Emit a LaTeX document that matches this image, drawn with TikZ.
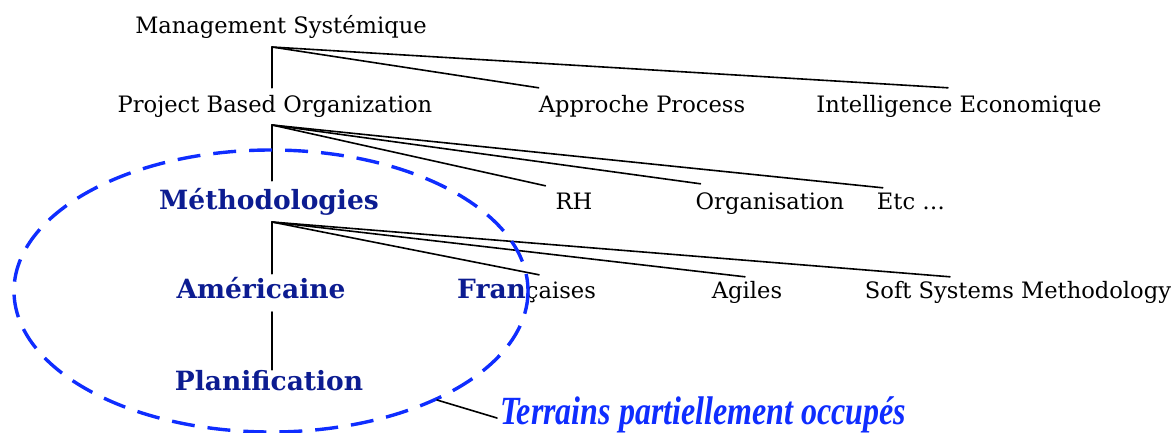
\documentclass[tikz,border=0pt]{standalone}
\usepackage{fontspec}
\setmainfont{DejaVu Serif}
\newfontfamily\condfont[FakeStretch=0.8]{Liberation Serif}
\definecolor{navy}{RGB}{12,28,145}
\definecolor{zoneblue}{RGB}{15,45,255}
\begin{document}
\begin{tikzpicture}[x=1pt, y=-1pt, line cap=round, line join=round,
	lbl/.style={anchor=base, inner sep=0pt, text height=24pt, font=\fontsize{22.6}{26}\selectfont},
	meth/.style={lbl, text=navy, font=\fontsize{26.5}{30}\selectfont\bfseries},
	link/.style={line width=1.6pt}]
	
	\useasboundingbox (0,0) rectangle (1173,432);
	
	% ---------- top level ----------
	\node[lbl] (ms) at (281,33) {Management Systémique};
	\coordinate (ms-hub) at (272,47);
	
	\node[lbl] (pbo) at (275,112) {Project Based Organization};
	\node[lbl] (ap) at (642,112) {Approche Process};
	\node[lbl] (ie) at (959,112) {Intelligence Economique};
	
	\draw[link] (ms-hub) -- (ms-hub |- pbo.north);
	\draw[link] (ms-hub) -- (ap.north west);
	\draw[link] (ms-hub) -- ([xshift=-11pt]ie.north);
	
	% ---------- under Project Based Organization ----------
	\coordinate (pbo-hub) at (272,125);
	\node[meth] (meth) at (269,209) {Méthodologies};
	\node[lbl] (rh) at (574,209) {RH};
	\node[lbl] (org) at (770,209) {Organisation};
	\node[lbl] (etc) at (911,209) {Etc \dots};
	
	\draw[link] (pbo-hub) -- ([yshift=4pt]pbo-hub |- meth.north);
	\draw[link] (pbo-hub) -- ([xshift=-10pt,yshift=-1pt]rh.north west);
	\draw[link] (pbo-hub) -- ([xshift=5pt,yshift=1pt]org.north west);
	\draw[link] (pbo-hub) -- ([xshift=6pt,yshift=-3pt]etc.north west);
	
	% ---------- under Methodologies ----------
	\coordinate (meth-hub) at (272,222);
	\node[meth] (am) at (261,298) {Américaine};
	\node[lbl, anchor=base west] (fr) at (457,298) {\textcolor{navy}{\fontsize{26.5}{30}\selectfont\bfseries Fran}çaises};
	\node[lbl] (ag) at (747,298) {Agiles};
	\node[lbl] (ssm) at (1018,298) {Soft Systems Methodology};
	
	\draw[link] (meth-hub) -- (meth-hub |- am.north);
	\draw[link] (meth-hub) -- ([xshift=-57pt,yshift=-1pt]fr.north east);
	\draw[link] (meth-hub) -- ([xshift=-2pt,yshift=-3pt]ag.north);
	\draw[link] (meth-hub) -- ([xshift=-68pt,yshift=-3pt]ssm.north);
	
	% ---------- Planification ----------
	\coordinate (am-hub) at (272,312);
	\node[meth] (plan) at (269,390) {Planification};
	\draw[link] (am-hub) -- ([yshift=-4pt]am-hub |- plan.north);
	
	% ---------- dashed zone ----------
	\draw[zoneblue, line width=3.4pt, line cap=butt, dash pattern=on 23pt off 13pt]
	(271,291) ellipse [x radius=257, y radius=141];
	\coordinate (zone-pt) at (437,400);
	\node[anchor=base west, inner sep=0pt, text=zoneblue,
	font=\condfont\fontsize{40}{44}\selectfont\bfseries\itshape]
	(terr) at (500,424) {Terrains partiellement occupés};
	\draw[link] (zone-pt) -- ([xshift=-3pt,yshift=6pt]terr.base west);
	
\end{tikzpicture}
\end{document}
